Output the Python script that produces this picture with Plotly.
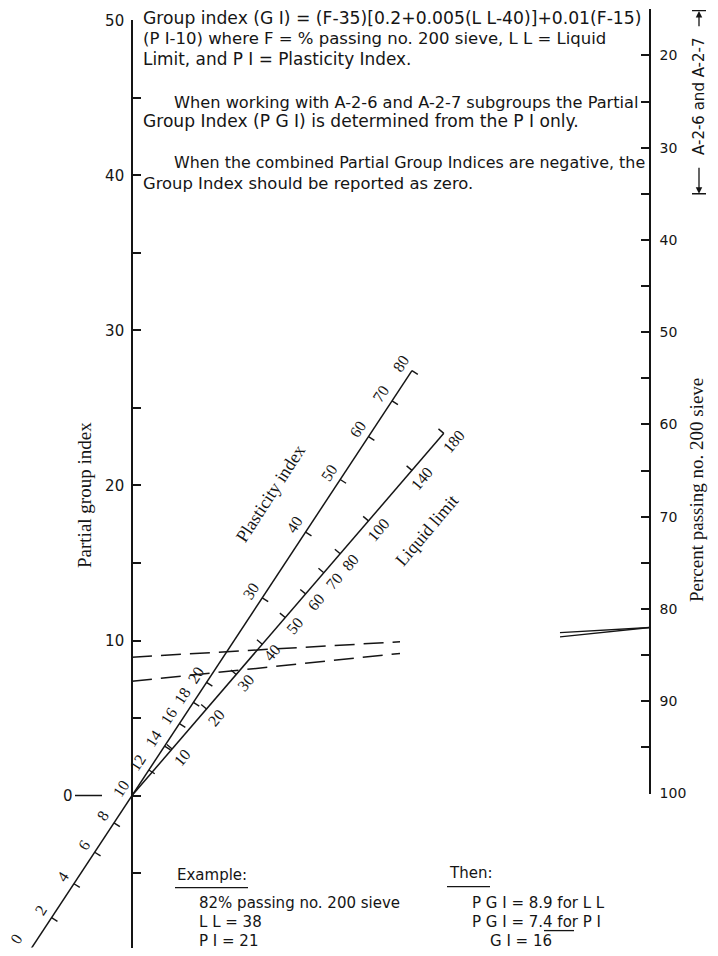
import math
import plotly.graph_objects as go

pgi_tick_values = [-9.8, -5, 0, 5, 10, 15, 20, 25, 30, 35, 40, 45, 50]
pgi_label_values = [10, 20, 30, 40, 50]
f_tick_values = [15, 20, 25, 30, 35, 40, 45, 50, 55, 60, 65, 70, 75, 80, 85, 90, 95, 100]
f_label_values = [20, 30, 40, 50, 60, 70, 80, 90, 100]
pi_range = [0, 80]
pi_tick_values = [0, 2, 4, 6, 8, 12, 14, 16, 18, 20, 30, 40, 50, 60, 70, 80]
pi_label_values = [0, 2, 4, 6, 8, 10, 12, 14, 16, 18, 20, 30, 40, 50, 60, 70, 80]
ll_range = [0, 180]
ll_tick_values = [10, 20, 30, 40, 50, 60, 70, 80, 100, 140, 180]
ll_label_values = [10, 20, 30, 40, 50, 60, 70, 80, 100, 140, 180]
a2_bracket_F = [15, 35]
example_F = 82
example_LL = 38
example_PI = 21
example_pgi_ll = 8.9
example_pgi_pi = 7.4
example_gi = 16

top_lines = [
    "Group index (G I) = (F-35)[0.2+0.005(L L-40)]+0.01(F-15)",
    "(P I-10) where F = % passing no. 200 sieve, L L = Liquid",
    "Limit, and P I = Plasticity Index.",
    "When working with A-2-6 and A-2-7 subgroups the Partial",
    "Group Index (P G I) is determined from the P I only.",
    "When the combined Partial Group Indices are negative, the",
    "Group Index should be reported as zero.",
]

# ---------------- layout geometry (pixels) ----------------
W, H = 718, 956
Y_C, Y_S = 478.0, 0.982          # vertical placement calibration


def Y(py):
    """target picture row -> page row"""
    return Y_C + (py - Y_C) / Y_S


XL_PX, XR_PX = 132, 650
PGI0_PY, PGI_PPU = Y(795.0), 15.5 / Y_S
F20_PY, F_PPU = Y(55.0), 9.225 / Y_S
PGI_MIN, PGI_MAX = -9.8, 50
F_MIN, F_MAX = 15, 100
SX = XR_PX - XL_PX
K = F_PPU / PGI_PPU
INK = "#151515"
SANS = "DejaVu Sans"
SERIF = "Liberation Serif"


def f_py(F):
    return F20_PY + (F - 20) * F_PPU


def pgi_py(u):
    return PGI0_PY - u * PGI_PPU


def f_on_pgi(F):
    return (PGI0_PY - f_py(F)) / PGI_PPU


def px_to_x(px):
    return (px - XL_PX) / SX


def diag(r, F0):
    t = r / (1 + r)
    return t, t * f_on_pgi(F0)


def pi_pt(p):
    return diag(0.01 * (p - 10) / K, 15)


def ll_pt(L):
    return diag(0.005 * L / K, 35)


def unit_dir(F0):
    dx, dy = SX, f_on_pgi(F0) * PGI_PPU
    n = math.hypot(dx, dy)
    return dx / n, dy / n


fig = go.Figure()
annotations = []
shapes = []

# ---- diagonal scales ----
for (fn, rng, ticks, labels, F0, side, name, name_val) in [
    (pi_pt, pi_range, pi_tick_values, pi_label_values, 15, -1, "Plasticity index", 42),
    (ll_pt, ll_range, ll_tick_values, ll_label_values, 35, 1, "Liquid limit", 117),
]:
    ux, uy = unit_dir(F0)
    ang = -math.degrees(math.atan2(uy, ux))
    a, b = fn(rng[0]), fn(rng[1])
    fig.add_trace(go.Scatter(x=[a[0], b[0]], y=[a[1], b[1]], mode="lines",
                             line=dict(color=INK, width=1.5), hoverinfo="skip"))
    tdir = (uy, -ux) if side == -1 else (-uy, ux)
    tx, ty = [], []
    for v in ticks:
        X, U = fn(v)
        tx += [X, X + 7 * tdir[0] / SX, None]
        ty += [U, U + 7 * tdir[1] / PGI_PPU, None]
    fig.add_trace(go.Scatter(x=tx, y=ty, mode="lines",
                             line=dict(color=INK, width=1.4), hoverinfo="skip"))
    ldir = (-uy, ux) if side == -1 else (uy, -ux)
    for v in labels:
        X, U = fn(v)
        xs, ys = 13 * ldir[0], 13 * ldir[1]
        if U < PGI_MIN:                     # keep the end label on the page
            ys += (U - PGI_MIN) * PGI_PPU + 9
            U = PGI_MIN
        annotations.append(dict(x=X, y=U, xref="x", yref="y", text=str(v), showarrow=False,
                                xshift=xs, yshift=ys, textangle=ang,
                                font=dict(family=SERIF, size=16, color=INK)))
    X, U = fn(name_val)
    annotations.append(dict(x=X, y=U, xref="x", yref="y", text=name, showarrow=False,
                            xshift=50 * ldir[0], yshift=50 * ldir[1], textangle=ang,
                            font=dict(family=SERIF, size=18, color=INK)))

# ---- example key lines ----
R = (1.0, f_on_pgi(example_F))
pgi_ll_calc = (example_F - 35) * (0.2 + 0.005 * (example_LL - 40))
pgi_pi_calc = 0.01 * (example_F - 15) * (example_PI - 10)
x_dash_end = px_to_x(400)
x_solid_start = px_to_x(560)
for u in [pgi_ll_calc, pgi_pi_calc]:
    ym = u + (R[1] - u) * x_dash_end
    fig.add_trace(go.Scatter(x=[0, x_dash_end], y=[u, ym], mode="lines",
                             line=dict(color=INK, width=1.5, dash="20px,9px"), hoverinfo="skip"))
    ys = u + (R[1] - u) * x_solid_start
    fig.add_trace(go.Scatter(x=[x_solid_start, 1], y=[ys, R[1]], mode="lines",
                             line=dict(color=INK, width=1.3), hoverinfo="skip"))

# ---- A-2-6 / A-2-7 bracket on the F axis ----
xb = px_to_x(699)
cap = 7 / SX
fig.add_trace(go.Scatter(x=[xb - cap, xb + cap, None, xb - cap, xb + cap],
                         y=[a2_bracket_F[0] + 0.15, a2_bracket_F[0] + 0.15, None,
                            a2_bracket_F[1], a2_bracket_F[1]],
                         xaxis="x", yaxis="y2", mode="lines",
                         line=dict(color=INK, width=1.4), hoverinfo="skip"))
fmid = (a2_bracket_F[0] + a2_bracket_F[1]) / 2 - 0.5
annotations.append(dict(x=xb, y=fmid, xref="x", yref="y2", text="A-2-6 and A-2-7",
                        showarrow=False, textangle=-90,
                        font=dict(family=SANS, size=15, color=INK)))
annotations.append(dict(x=xb, y=a2_bracket_F[0] + 0.2, xref="x", yref="y2", ax=xb, ay=17.0,
                        axref="x", ayref="y2", showarrow=True, arrowhead=2, arrowsize=1,
                        arrowwidth=1.3, arrowcolor=INK, text=""))
annotations.append(dict(x=xb, y=a2_bracket_F[1], xref="x", yref="y2", ax=xb, ay=32.0,
                        axref="x", ayref="y2", showarrow=True, arrowhead=2, arrowsize=1,
                        arrowwidth=1.3, arrowcolor=INK, text=""))

# ---- "0" mark on the left scale ----
annotations.append(dict(x=61 / W, y=0, xref="paper", yref="y", text="0", showarrow=False,
                        font=dict(family=SANS, size=15, color=INK)))
shapes.append(dict(type="line", xref="paper", yref="y", x0=75 / W, x1=102 / W, y0=0, y1=0,
                   line=dict(color=INK, width=1.4)))

# ---- axis titles ----
annotations.append(dict(x=72 / W, y=1 - Y(495) / H, xref="paper", yref="paper",
                        text="Partial group index", showarrow=False, textangle=-90,
                        font=dict(family=SERIF, size=19, color=INK)))
annotations.append(dict(x=709 / W, y=1 - Y(490) / H, xref="paper", yref="paper",
                        text="Percent passing no. 200 sieve", showarrow=False, textangle=-90,
                        font=dict(family=SERIF, size=19, color=INK)))

# ---- top explanatory text ----
top_pos = [(141, 18), (141, 38), (141, 59), (172, 102), (141, 121), (172, 162), (141, 183)]
top_size = [17.2, 16.5, 16.9, 16.2, 17.1, 15.9, 16.4]
for txt, (px, py), fs in zip(top_lines, top_pos, top_size):
    annotations.append(dict(x=px / W, y=1 - Y(py) / H, xref="paper", yref="paper", text=txt,
                            showarrow=False, xanchor="left", yanchor="middle",
                            font=dict(family=SANS, size=fs, color=INK)))

# ---- example block ----
ex_left = [
    ("Example:", 175, 874),
    (f"{example_F}% passing no. 200 sieve", 197, 902),
    (f"L L = {example_LL}", 197, 921),
    (f"P I = {example_PI}", 197, 940),
    ("Then:", 447, 872),
    (f"P G I = {example_pgi_ll} for L L", 470, 902),
    (f"P G I = {example_pgi_pi} for P I", 470, 921),
    (f"G I = {example_gi}", 488, 940),
]
for txt, px, py in ex_left:
    annotations.append(dict(x=px / W, y=1 - Y(py) / H, xref="paper", yref="paper", text=txt,
                            showarrow=False, xanchor="left", yanchor="middle",
                            font=dict(family=SANS, size=15, color=INK)))
for x0, x1, py in [(175, 248, 887), (447, 490, 886), (544, 574, 930)]:
    shapes.append(dict(type="line", xref="paper", yref="paper", x0=x0 / W, x1=x1 / W,
                       y0=1 - Y(py) / H, y1=1 - Y(py) / H, line=dict(color=INK, width=1.3)))

fig.update_layout(
    width=W, height=H, margin=dict(l=0, r=0, t=0, b=0),
    paper_bgcolor="white", plot_bgcolor="rgba(0,0,0,0)", showlegend=False,
    xaxis=dict(domain=[0, 1], range=[px_to_x(0), px_to_x(W)], visible=False, fixedrange=True),
    yaxis=dict(domain=[max(0.0, (H - pgi_py(PGI_MIN)) / H), min(1.0, (H - pgi_py(PGI_MAX)) / H)],
               range=[PGI_MIN, PGI_MAX], anchor="free", position=XL_PX / W, side="left",
               showline=True, linecolor=INK, linewidth=1.6, ticks="inside", ticklen=8,
               tickwidth=1.5, tickcolor=INK, tickvals=pgi_tick_values,
               ticktext=[str(v) if v in pgi_label_values else "" for v in pgi_tick_values],
               tickfont=dict(family=SANS, size=15, color=INK), showgrid=False,
               zeroline=False, ticklabelstandoff=4),
    yaxis2=dict(domain=[max(0.0, (H - f_py(F_MAX)) / H), min(1.0, (H - f_py(F_MIN)) / H)],
                range=[F_MAX, F_MIN], anchor="free", position=XR_PX / W, side="right",
                showline=True, linecolor=INK, linewidth=1.6, ticks="inside", ticklen=8,
                tickwidth=1.5, tickcolor=INK, tickvals=f_tick_values,
                ticktext=[str(v) if v in f_label_values else "" for v in f_tick_values],
                tickfont=dict(family=SANS, size=14, color=INK), showgrid=False,
                zeroline=False, ticklabelstandoff=6),
    annotations=annotations, shapes=shapes,
)

fig.write_html("out.html", config={"displayModeBar": False},
               post_script="document.body.style.margin='0';")
